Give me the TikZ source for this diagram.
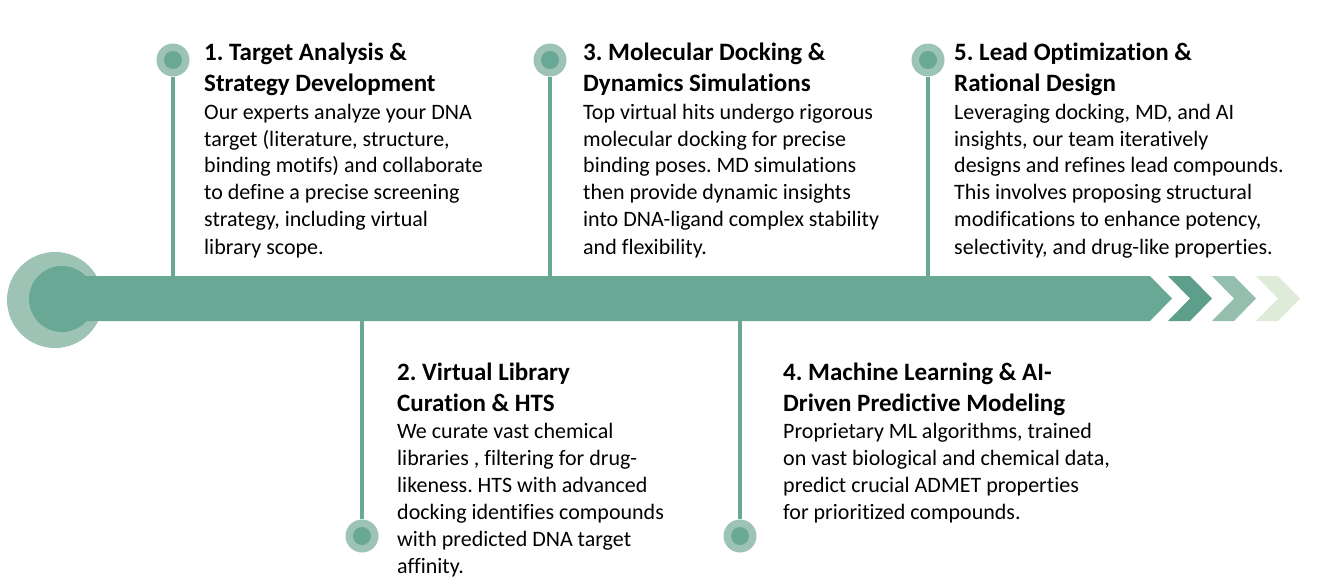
\documentclass[tikz,border=0pt]{standalone}
\usepackage{fontspec}
\setmainfont{Carlito}[Ligatures=NoCommon]
\frenchspacing
\definecolor{mainc}{HTML}{6AA896}
\definecolor{lightc}{HTML}{9DC3B5}
\definecolor{chevA}{HTML}{5E9F8B}
\definecolor{chevB}{HTML}{94BFAE}
\definecolor{chevC}{HTML}{DDEBD8}
\newcommand\ttlbox[1]{\parbox[t]{480pt}{\raggedright\frenchspacing\fontsize{25}{31}\selectfont\bfseries #1}}
\newcommand\bdybox[1]{\parbox[t]{480pt}{\raggedright\frenchspacing\fontsize{22}{27}\selectfont #1}}
\begin{document}
\begin{tikzpicture}[x=1pt,y=-1pt,
  dotout/.style={circle,fill=lightc,minimum size=33pt,inner sep=0pt},
  dotin/.style={circle,fill=mainc,minimum size=18pt,inner sep=0pt},
  stem/.style={draw=mainc,line width=4pt},
  txt/.style={anchor=base west,inner sep=0pt,text=black}]
\useasboundingbox (0,0) rectangle (1318,586);
% start circles
\fill[lightc] (55,300) circle (48pt);
% dots
\node[dotout] (d1) at (173,60) {};
\node[dotout] (d2) at (362,536) {};
\node[dotout] (d3) at (550,60) {};
\node[dotout] (d4) at (740,536) {};
\node[dotout] (d5) at (928,60) {};
% bar edges
\coordinate (bartop) at (0,276);
\coordinate (barbot) at (0,321);
% stems
\draw[stem] (d1.south) -- (d1 |- bartop);
\draw[stem] (d3.south) -- (d3 |- bartop);
\draw[stem] (d5.south) -- (d5 |- bartop);
\draw[stem] (d2.north) -- (d2 |- barbot);
\draw[stem] (d4.north) -- (d4 |- barbot);
\node[dotin] (d1i) at (d1) {};
\node[dotin] (d2i) at (d2) {};
\node[dotin] (d3i) at (d3) {};
\node[dotin] (d4i) at (d4) {};
\node[dotin] (d5i) at (d5) {};
% bar
\fill[mainc] (60,276) -- (1150,276) -- (1172,298.5) -- (1150,321) -- (60,321) -- cycle;
\fill[mainc] (62,299) circle (33pt);
% chevrons
\fill[chevA] (1168,276) -- (1190,276) -- (1212,298.5) -- (1190,321) -- (1168,321) -- (1190,298.5) -- cycle;
\fill[chevB] (1212,276) -- (1234,276) -- (1256,298.5) -- (1234,321) -- (1212,321) -- (1234,298.5) -- cycle;
\fill[chevC] (1256,276) -- (1278,276) -- (1300,298.5) -- (1278,321) -- (1256,321) -- (1278,298.5) -- cycle;
% texts top
\node[txt] (t1) at (204,61) {\ttlbox{1. Target Analysis \&\\Strategy Development}};
\node[txt] (b1) at (204,119) {\bdybox{Our experts analyze your DNA\\target (literature, structure,\\binding motifs) and collaborate\\to define a precise screening\\strategy, including virtual\\library scope.}};
\node[txt] (t3) at (583,61) {\ttlbox{3. Molecular Docking \&\\Dynamics Simulations}};
\node[txt] (b3) at (583,119) {\bdybox{Top virtual hits undergo rigorous\\molecular docking for precise\\binding poses. MD simulations\\then provide dynamic insights\\into DNA-ligand complex stability\\and flexibility.}};
\node[txt] (t5) at (954,61) {\ttlbox{5. Lead Optimization \&\\Rational Design}};
\node[txt] (b5) at (954,119) {\bdybox{Leveraging docking, MD, and AI\\insights, our team iteratively\\designs and refines lead compounds.\\This involves proposing structural\\modifications to enhance potency,\\selectivity, and drug-like properties.}};
% texts bottom
\node[txt] (t2) at (397,380) {\ttlbox{2. Virtual Library\\Curation \& HTS}};
\node[txt] (b2) at (397,438) {\bdybox{We curate vast chemical\\libraries , filtering for drug-\\likeness. HTS with advanced\\docking identifies compounds\\with predicted DNA target\\affinity.}};
\node[txt] (t4) at (783,380) {\ttlbox{4. Machine Learning \& AI-\\Driven Predictive Modeling}};
\node[txt] (b4) at (783,438) {\bdybox{Proprietary ML algorithms, trained\\on vast biological and chemical data,\\predict crucial ADMET properties\\for prioritized compounds.}};
\end{tikzpicture}
\end{document}
